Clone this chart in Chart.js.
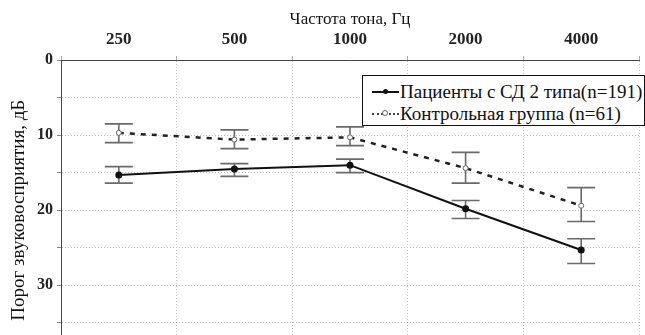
<!DOCTYPE html>
<html>
<head>
<meta charset="utf-8">
<script src="https://cdn.jsdelivr.net/npm/chart.js@4/dist/chart.umd.min.js"></script>
<style>
  body { margin: 0; background: #fff; }
  #wrap { position: relative; width: 645px; height: 335px; overflow: hidden; }
  #legend {
    position: absolute; left: 362px; top: 75px; width: 281px; height: 49px;
    background: #fff; border: 1.5px solid #111;
    font-family: "Liberation Serif", "Times New Roman", serif; font-size: 19px; color: #111;
  }
  .row { position: absolute; left: 9px; height: 23px; line-height: 23px; white-space: nowrap; }
  .row span { display: inline-block; vertical-align: middle; }
  .sample { position: relative; width: 27px; height: 2px; margin-right: 1px; }
  .solid { background: #111; }
  .dash { border-top: 2px dotted #444; height: 0; }
  .dot { position: absolute; left: 11px; top: -2px; width: 5px; height: 5px; border-radius: 50%; background: #111; }
  .ring { position: absolute; left: 10px; top: -5px; width: 4px; height: 4px; border-radius: 50%; background: #fff; border: 1px solid #666; }
</style>
</head>
<body>
<div id="wrap">
  <canvas id="chart" width="645" height="374"></canvas>
  <div id="legend">
    <div class="row" style="top:2px"><span class="sample solid"><span class="dot"></span></span><span>Пациенты с СД 2 типа(n=191)</span></div>
    <div class="row" style="top:24px"><span class="sample dash"><span class="ring"></span></span><span>Контрольная группа (n=61)</span></div>
  </div>
</div>
<script>
// --- data ---
const freqs = ['250', '500', '1000', '2000', '4000'];

const patients = [15.3, 14.5, 14.0, 19.8, 25.3];
const patientsLow = [14.2, 13.8, 13.2, 18.7, 23.8];
const patientsHigh = [16.4, 15.5, 15.0, 21.1, 27.1];

const control = [9.7, 10.6, 10.3, 14.4, 19.4];
const controlLow = [8.5, 9.3, 8.9, 12.3, 17.0];
const controlHigh = [11.0, 11.8, 11.4, 16.4, 21.5];

const serif = "'Liberation Serif', 'Times New Roman', serif";

// error bars, drawn under the lines
const errorBars = {
    id: 'errorBars',
    beforeDatasetsDraw(chart) {
        const ctx = chart.ctx;
        const y = chart.scales.y;
        const ranges = [[patientsLow, patientsHigh], [controlLow, controlHigh]];
        ctx.save();
        ctx.strokeStyle = '#6a6a6a';
        ctx.lineWidth = 1.6;
        ranges.forEach(function (r, di) {
            const meta = chart.getDatasetMeta(di);
            meta.data.forEach(function (pt, i) {
                const y1 = y.getPixelForValue(r[0][i]);
                const y2 = y.getPixelForValue(r[1][i]);
                ctx.beginPath();
                ctx.moveTo(pt.x, y1); ctx.lineTo(pt.x, y2);
                ctx.moveTo(pt.x - 14, y1); ctx.lineTo(pt.x + 14, y1);
                ctx.moveTo(pt.x - 14, y2); ctx.lineTo(pt.x + 14, y2);
                ctx.stroke();
            });
        });
        ctx.restore();
    }
};

const ctx = document.getElementById('chart').getContext('2d');
const myChart = new Chart(ctx, {
    type: 'line',
    data: {
        labels: freqs,
        datasets: [{
            label: 'Пациенты с СД 2 типа (n=191)',
            data: patients,
            borderColor: '#111',
            borderWidth: 2,
            pointRadius: 2.5,
            pointBackgroundColor: '#111',
            pointBorderColor: '#111',
            tension: 0
        }, {
            label: 'Контрольная группа (n=61)',
            data: control,
            borderColor: '#222',
            borderWidth: 2.5,
            borderDash: [5, 6],
            pointRadius: 2.5,
            pointBackgroundColor: '#fff',
            pointBorderColor: '#666',
            pointBorderWidth: 1,
            tension: 0
        }]
    },
    options: {
        responsive: false,
        animation: false,
        layout: { padding: { top: 0, right: 3, bottom: 2, left: 0 } },
        plugins: { legend: { display: false }, tooltip: { enabled: false } },
        scales: {
            x: {
                position: 'top',
                offset: true,
                afterFit: function (s) { s.height = 60; },
                title: {
                    display: true, text: 'Частота тона, Гц', color: '#111',
                    font: { family: serif, size: 17 }, padding: { top: 9, bottom: 0 }
                },
                ticks: { color: '#222', font: { family: serif, size: 17, weight: 'bold' }, padding: 6 },
                grid: { offset: true, color: '#c4c4c4', tickLength: 4, tickColor: '#aaa' },
                border: { color: '#444', width: 1, dash: [1, 2] }
            },
            y: {
                reverse: true,
                min: 0,
                max: 40,
                afterFit: function (s) { s.width = 61; },
                title: {
                    display: true, text: 'Порог звуковосприятия, дБ', color: '#111',
                    font: { family: serif, size: 19 }, padding: { top: 8, bottom: 0 }
                },
                ticks: {
                    stepSize: 5,
                    color: '#222',
                    font: { family: serif, size: 16, weight: 'bold' },
                    padding: 4,
                    callback: function (v) { return v % 10 === 0 && v < 40 ? v : ''; }
                },
                grid: { color: '#c4c4c4', tickLength: 4, tickColor: '#888' },
                border: { color: '#444', width: 1, dash: [1, 2] }
            }
        }
    },
    plugins: [errorBars]
});
</script>
</body>
</html>
